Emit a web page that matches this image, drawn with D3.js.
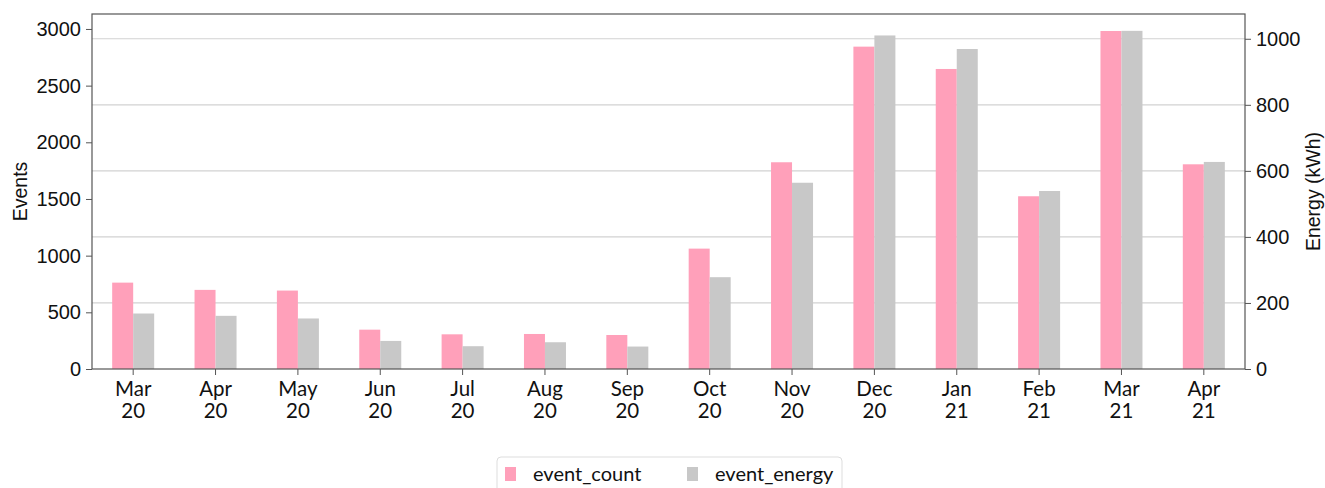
<!DOCTYPE html>
<html>
<head>
<meta charset="utf-8">
<script src="https://cdn.jsdelivr.net/npm/d3@7"></script>
<style>
  body { margin: 0; background: #fff; }
  svg { display: block; }
  .tick text { font-family: "Liberation Sans", Arial, sans-serif; font-size: 20px; fill: #111; }
  .xaxis .tick text { font-family: Lato, "Open Sans", sans-serif; font-size: 20.5px; }
</style>
</head>
<body>
<div id="main"></div>
<script>
// chart data
const months = ['Mar 20', 'Apr 20', 'May 20', 'Jun 20', 'Jul 20', 'Aug 20', 'Sep 20',
  'Oct 20', 'Nov 20', 'Dec 20', 'Jan 21', 'Feb 21', 'Mar 21', 'Apr 21'];
const eventCount = [762, 698, 692, 347, 306, 309, 300, 1062, 1824, 2844, 2647, 1524, 2982, 1806];
const eventEnergy = [168, 161, 153, 85, 69, 81, 68, 278, 564, 1010, 969, 539, 1024, 627];
const countTicks = [0, 500, 1000, 1500, 2000, 2500, 3000];
const energyTicks = [0, 200, 400, 600, 800, 1000];
const seriesNames = ['event_count', 'event_energy'];

function main() {
  const width = 1325;
  const height = 488;
  const plot = { left: 92, right: 1245, top: 14, bottom: 369 };
  const pink = '#ffa0ba';
  const grey = '#c8c8c8';

  const svg = d3.select('#main')
    .append('svg')
    .attr('width', width)
    .attr('height', height);

  // scales
  const x = d3.scaleBand()
    .domain(months)
    .range([plot.left, plot.right])
    .paddingInner(0)
    .paddingOuter(0);
  const yCount = d3.scaleLinear().domain([0, 3132]).range([plot.bottom, plot.top]);
  const yEnergy = d3.scaleLinear().domain([0, 1075]).range([plot.bottom, plot.top]);
  const barW = x.bandwidth() * 0.255;

  // gridlines follow the right (energy) axis
  svg.append('g')
    .selectAll('line')
    .data(energyTicks.slice(1))
    .enter()
    .append('line')
    .attr('x1', plot.left)
    .attr('x2', plot.right)
    .attr('y1', d => yEnergy(d))
    .attr('y2', d => yEnergy(d))
    .attr('stroke', '#d2d2d2')
    .attr('stroke-width', 1.2);

  // bars
  const groups = svg.append('g')
    .selectAll('g')
    .data(months)
    .enter()
    .append('g');
  groups.append('rect')
    .attr('x', d => x(d) + x.bandwidth() / 2 - barW)
    .attr('width', barW)
    .attr('y', (d, i) => yCount(eventCount[i]))
    .attr('height', (d, i) => plot.bottom - yCount(eventCount[i]))
    .attr('fill', pink);
  groups.append('rect')
    .attr('x', d => x(d) + x.bandwidth() / 2)
    .attr('width', barW)
    .attr('y', (d, i) => yEnergy(eventEnergy[i]))
    .attr('height', (d, i) => plot.bottom - yEnergy(eventEnergy[i]))
    .attr('fill', grey);

  // frame
  svg.append('rect')
    .attr('x', plot.left)
    .attr('y', plot.top)
    .attr('width', plot.right - plot.left)
    .attr('height', plot.bottom - plot.top)
    .attr('fill', 'none')
    .attr('stroke', '#555')
    .attr('stroke-width', 1.2);

  // axes
  const leftAxis = svg.append('g')
    .attr('transform', `translate(${plot.left},0)`)
    .call(d3.axisLeft(yCount).tickValues(countTicks).tickFormat(d3.format('d')).tickSize(6).tickPadding(5));
  const rightAxis = svg.append('g')
    .attr('transform', `translate(${plot.right},0)`)
    .call(d3.axisRight(yEnergy).tickValues(energyTicks).tickFormat(d3.format('d')).tickSize(6).tickPadding(5));
  const bottomAxis = svg.append('g')
    .attr('class', 'xaxis')
    .attr('transform', `translate(0,${plot.bottom})`)
    .call(d3.axisBottom(x).tickSize(6).tickSizeOuter(0).tickFormat(''));
  [leftAxis, rightAxis, bottomAxis].forEach(a => {
    a.select('.domain').remove();
    a.selectAll('.tick line').attr('stroke', '#555');
  });

  // two-line month labels
  bottomAxis.selectAll('.tick')
    .append('text')
    .attr('text-anchor', 'middle')
    .selectAll('tspan')
    .data(d => d.split(' '))
    .enter()
    .append('tspan')
    .attr('x', 0)
    .attr('y', (d, i) => 27 + i * 22)
    .text(d => d);

  // axis titles
  svg.append('text')
    .attr('transform', `translate(27,${(plot.top + plot.bottom) / 2}) rotate(-90)`)
    .attr('text-anchor', 'middle')
    .style('font-family', '"Liberation Sans", Arial, sans-serif')
    .style('font-size', '19.5px')
    .style('fill', '#111')
    .text('Events');
  svg.append('text')
    .attr('transform', `translate(1320,${(plot.top + plot.bottom) / 2}) rotate(-90)`)
    .attr('text-anchor', 'middle')
    .style('font-family', '"Liberation Sans", Arial, sans-serif')
    .style('font-size', '19.5px')
    .style('fill', '#111')
    .text('Energy (kWh)');

  // legend
  const legend = svg.append('g').attr('transform', 'translate(497,457)');
  legend.append('rect')
    .attr('width', 345)
    .attr('height', 40)
    .attr('rx', 4)
    .attr('fill', '#fff')
    .attr('stroke', '#ddd');
  const items = legend.selectAll('g.item')
    .data(seriesNames)
    .enter()
    .append('g')
    .attr('class', 'item')
    .attr('transform', (d, i) => `translate(${8 + i * 182},0)`);
  items.append('rect')
    .attr('y', 10)
    .attr('width', 11)
    .attr('height', 14)
    .attr('fill', (d, i) => (i === 0 ? pink : grey));
  items.append('text')
    .attr('x', 28)
    .attr('y', 24)
    .style('font-family', 'Lato, "Open Sans", sans-serif')
    .style('font-size', '20px')
    .style('fill', '#111')
    .text(d => d);
}

main();
</script>
</body>
</html>
